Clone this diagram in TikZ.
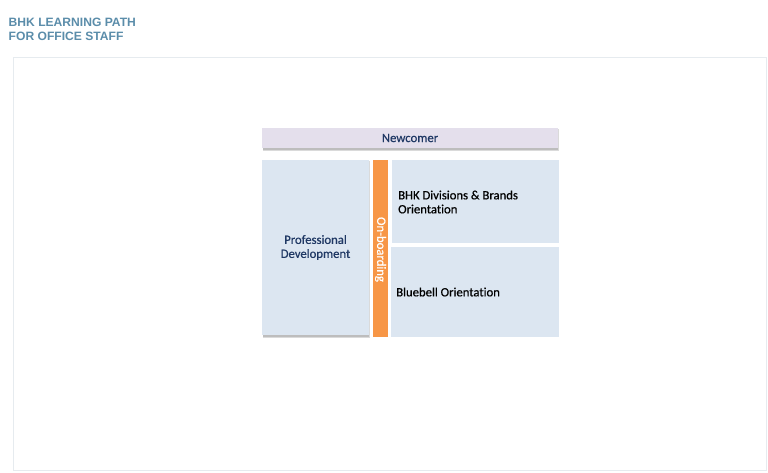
\documentclass[tikz,border=0pt]{standalone}
\usepackage{fontspec}
\setmainfont{Carlito}[Ligatures={NoCommon}, FakeBold=0.6]
\newfontfamily\titlefont{Liberation Sans}
\definecolor{titleblue}{HTML}{5B8DAA}
\definecolor{framegray}{HTML}{E6EBEF}
\definecolor{boxblue}{HTML}{DCE6F1}
\definecolor{lav}{HTML}{E4DFEC}
\definecolor{orng}{HTML}{F79646}
\definecolor{navy}{HTML}{1F3864}
\definecolor{shadowgray}{HTML}{BDBDBD}
\definecolor{shadowlight}{HTML}{DADADA}
\tikzset{
  lbl/.style={font=\fontsize{12.7}{14}\selectfont, text=navy, align=center},
  blk/.style={font=\fontsize{12.7}{14}\selectfont, text=black, align=left, anchor=west, inner sep=0pt},
}
\begin{document}
\begin{tikzpicture}[x=1pt,y=-1pt]
\useasboundingbox (0,0) rectangle (768,472);
\fill[white] (0,0) rectangle (768,472);
\node[anchor=north west, inner sep=0pt, align=left, text=titleblue,
  font=\titlefont\bfseries\fontsize{12.1}{14.6}\selectfont] (title) at (8.5,17.5) {BHK LEARNING PATH\\FOR OFFICE STAFF};
\draw[framegray, line width=1pt] (13.5,57.5) rectangle (766.5,470.5);
% Newcomer
\fill[shadowlight] (263,129) rectangle (559,151);
\fill[shadowgray] (263,129) rectangle (558,150);
\fill[lav] (262,128) rectangle (558,148);
\node[lbl] (newc) at (410,138) {Newcomer};
% Professional Development
\fill[shadowlight] (263,161) rectangle (370,338);
\fill[shadowgray] (263,161) rectangle (369,337);
\fill[boxblue] (262,160) rectangle (369,335);
\node[lbl] (prof) at (315.5,247.5) {Professional\\Development};
% Orange bar
\fill[orng] (373,160) rectangle (388,337);
\node[rotate=-90, text=white, font=\fontsize{12.7}{14}\selectfont] (onb) at (380.5,249.5) {On-boarding};
% BHK
\fill[boxblue] (392,160) rectangle (559,243);
\node[blk] (bhk) at (398,202) {BHK Divisions \& Brands\\Orientation};
% Bluebell
\fill[boxblue] (391,247) rectangle (559,337);
\node[blk] (blue) at (396,292) {Bluebell Orientation};
\end{tikzpicture}
\end{document}
